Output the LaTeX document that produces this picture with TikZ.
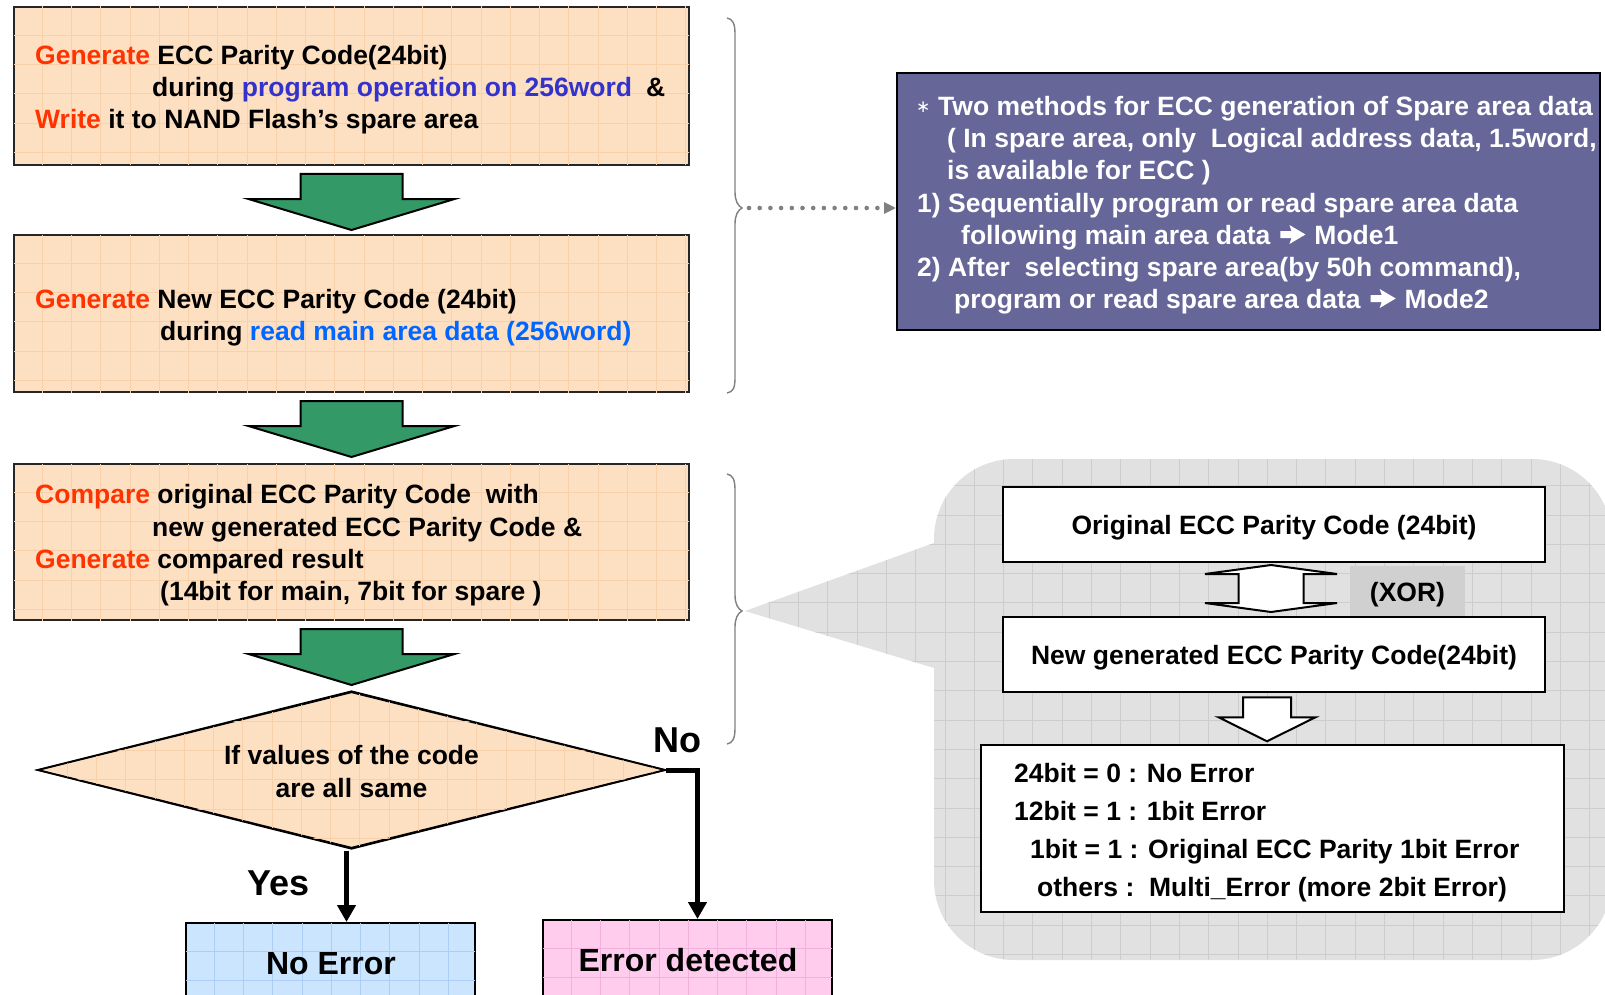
\documentclass[tikz,border=0pt]{standalone}
\usepackage{fontspec}
\setmainfont{Liberation Sans}
\newfontfamily\symfont{DejaVu Sans}
\usetikzlibrary{shapes.geometric,arrows.meta,calc}

\definecolor{peach}{RGB}{253,223,194}
\definecolor{peachgrid}{RGB}{248,209,170}
\definecolor{hot}{RGB}{255,51,0}
\definecolor{progblue}{RGB}{51,51,204}
\definecolor{readblue}{RGB}{0,102,255}
\definecolor{arrowgreen}{RGB}{51,153,102}
\definecolor{noteblue}{RGB}{102,102,153}
\definecolor{callgray}{RGB}{225,225,225}
\definecolor{callgrid}{RGB}{205,205,205}
\definecolor{xorgray}{RGB}{208,208,208}
\definecolor{okblue}{RGB}{204,229,255}
\definecolor{okgrid}{RGB}{172,206,245}
\definecolor{errpink}{RGB}{255,204,238}
\definecolor{errgrid}{RGB}{240,178,218}
\definecolor{bracegray}{RGB}{128,128,128}

\newcommand\fsMain{\fontsize{26.5pt}{32pt}\selectfont\bfseries}
\newcommand\fsBig{\fontsize{32pt}{36pt}\selectfont\bfseries}
\newcommand\fsHuge{\fontsize{36pt}{40pt}\selectfont\bfseries}
\newcommand\hot[1]{\textcolor{hot}{#1}}
% heavy wide-headed arrow used inside the note text
\newcommand\arr{\hspace{10pt}\rlap{\tikz[x=1pt,y=1pt,baseline=0pt]{\fill[white] (0,6) -- (11,6) -- (9,0)
  -- (25,9.5) -- (9,19) -- (11,13) -- (0,13) -- cycle;}}\hspace{34pt}}

% faint square grid inside a rectangular node
\newcommand\gridbox[2]{%
  \begin{scope}
    \clip ([shift={(1,1)}]#1.north west) rectangle ([shift={(-1,-1)}]#1.south east);
    \foreach \k in {1,...,24}{
      \draw[#2] ([shift={(\k*29.25,0)}]#1.north west) -- ++(0,700);
      \draw[#2] ([shift={(0,\k*29.25)}]#1.north west) -- ++(800,0);
    }
  \end{scope}}

\tikzset{
  ln/.style={inner sep=0pt, anchor=base west, font=\fsMain},
  obox/.style={rectangle, draw=black!85, line width=2pt, fill=peach, inner sep=0pt},
  wbox/.style={rectangle, draw=black, line width=2.5pt, fill=white, inner sep=0pt, font=\fsMain},
  gline/.style={line width=0.9pt},
  garrow/.style={draw=black, line width=2pt, fill=arrowgreen, line join=miter},
  warrow/.style={draw=black, line width=2pt, fill=white, line join=miter},
  flowarrow/.style={line width=5pt, -{Triangle[length=17pt,width=18pt]}},
  bracepath/.style={draw=bracegray, line width=1.4pt},
  dotconn/.style={draw=bracegray, line width=4.6pt, line cap=round,
    dash pattern=on 0pt off 10.7pt, -{Triangle[length=12pt,width=11pt]}}
}

\begin{document}
\begin{tikzpicture}[x=1pt,y=-1pt]
\useasboundingbox (0,0) rectangle (1605,995);
\fill[white] (0,0) rectangle (1605,995);
\clip (0,0) rectangle (1605,995);

% ---------- left flow: process boxes ----------
\node[obox, minimum width=675pt, minimum height=158pt] (box1) at (351.5,86) {};
\node[obox, minimum width=675pt, minimum height=157pt] (box2) at (351.5,313.5) {};
\node[obox, minimum width=675pt, minimum height=156pt] (box3) at (351.5,542) {};
\gridbox{box1}{gline, peachgrid}
\gridbox{box2}{gline, peachgrid}
\gridbox{box3}{gline, peachgrid}

\node[ln] (b1a) at (35,65) {\hot{Generate} ECC Parity Code(24bit)};
\node[ln] (b1b) at (152,97) {during \textcolor{progblue}{program operation on 256word}\hspace{14pt}\&};
\node[ln] (b1c) at (35,129) {\hot{Write} it to NAND Flash’s spare area};

\node[ln] (b2a) at (35,308.5) {\hot{Generate} New ECC Parity Code (24bit)};
\node[ln] (b2b) at (160,340.5) {during \textcolor{readblue}{read main area data (256word)}};

\node[ln] (b3a) at (35,503.5) {\hot{Compare} original ECC Parity Code\ \ with};
\node[ln] (b3b) at (152,536.5) {new generated ECC Parity Code \&};
\node[ln] (b3c) at (35,568.5) {\hot{Generate} compared result};
\node[ln] (b3d) at (160,600.5) {(14bit for main, 7bit for spare )};

% green block arrows between the steps
\foreach \b in {box1,box2,box3}{
  \draw[garrow] ($(\b.south)+(0,8)$) ++(-51,0) -- ++(102,0) -- ++(0,25) -- ++(52,0)
    -- ++(-103,31) -- ++(-103,-31) -- ++(52,0) -- cycle;
}

% decision
\node[diamond, draw=black, line width=1.6pt, fill=peach, inner sep=0pt,
      minimum width=627pt, minimum height=156pt] (dia) at (351.5,770) {};
\begin{scope}
  \clip (dia.north) -- (dia.east) -- (dia.south) -- (dia.west) -- cycle;
  \foreach \k in {1,...,24}{
    \draw[gline, peachgrid] (38+\k*29.25,692) -- ++(0,160);
    \draw[gline, peachgrid] (38,692+\k*29.25) -- ++(630,0);
  }
\end{scope}
\draw[black, line width=1.6pt] (dia.north) -- (dia.east) -- (dia.south) -- (dia.west) -- cycle;
\node[inner sep=0pt, align=center, font=\fontsize{26.5pt}{33pt}\selectfont\bfseries] (dtxt) at (351.5,772)
  {If values of the code\\are all same};

% outcomes
\node[rectangle, draw=black, line width=2pt, fill=okblue, inner sep=0pt,
      minimum width=289pt, minimum height=87pt] (noerr) at (330.5,966.5) {};
\node[rectangle, draw=black, line width=2pt, fill=errpink, inner sep=0pt,
      minimum width=289pt, minimum height=90pt] (errdet) at (687.5,965) {};
\gridbox{noerr}{gline, okgrid}
\gridbox{errdet}{gline, errgrid}
\node[inner sep=0pt, anchor=base, font=\fsBig] (noerrt) at (331,974) {No Error};
\node[inner sep=0pt, anchor=base, font=\fsBig] (errdett) at (688,971) {Error detected};

\coordinate (ys) at ($(dia.south)+(-5,2)$);
\draw[flowarrow] (ys) -- (ys |- noerr.north);
\draw[flowarrow, line join=miter] (dia.east) -| ($(errdet.north)+(10,0)$);
\node[inner sep=0pt, anchor=base, font=\fsHuge] (yes) at (278.5,895) {Yes};
\node[inner sep=0pt, anchor=base west, font=\fsHuge] (no) at (653,752) {No};

% ---------- braces ----------
\draw[bracepath] (727,18) .. controls (733,19) and (735,24) .. (735,34) -- (735,192)
  .. controls (735,201) and (738,206) .. (742,208) coordinate (b1tip)
  .. controls (738,210) and (735,215) .. (735,224) -- (735,378)
  .. controls (735,388) and (733,392) .. (727,393);
\draw[bracepath] (727,474) .. controls (733,475) and (735,480) .. (735,490) -- (735,595)
  .. controls (735,604) and (738,609) .. (742,611) coordinate (b2tip)
  .. controls (738,613) and (735,618) .. (735,627) -- (735,728)
  .. controls (735,738) and (733,743) .. (727,744);

% ---------- note on spare area ----------
\node[rectangle, draw=black, line width=2pt, fill=noteblue, inner sep=0pt,
      minimum width=703pt, minimum height=257pt] (note) at (1248.5,201.5) {};
\draw[dotconn] ($(b1tip)+(7,0)$) -- (b1tip -| note.west);
\begin{scope}[every node/.append style={text=white}]
  \node[inner sep=0pt, anchor=base west, font=\symfont\fontsize{17pt}{17pt}\selectfont] (star) at (916,113) {∗};
  \node[ln] (n1) at (938,116) {Two methods for ECC generation of Spare area data};
  \node[ln] (n2) at (947,148) {( In spare area, only\ \ Logical address data, 1.5word,};
  \node[ln] (n3) at (947,180) {is available for ECC )};
  \node[ln] (n4) at (917,212) {1) Sequentially program or read spare area data};
  \node[ln] (n5) at (961,244) {following main area data\arr Mode1};
  \node[ln] (n6) at (917,276) {2) After\ \ selecting spare area(by 50h command),};
  \node[ln] (n7) at (954,308) {program or read spare area data\arr Mode2};
\end{scope}

% ---------- XOR detail callout ----------
\fill[callgray, rounded corners=80pt] (934,459) rectangle (1612,960);
\fill[callgray] (934,543) -- (745,611) -- (934,668) -- cycle;
\begin{scope}
  \clip[rounded corners=80pt] (934,459) rectangle (1612,960);
  \foreach \k in {0,...,24}{
    \draw[gline, callgrid] (945+\k*29.3,459) -- ++(0,510);
    \draw[gline, callgrid] (934,485.7+\k*29.3) -- ++(680,0);
  }
\end{scope}
\begin{scope}
  \clip (934,543) -- (745,611) -- (934,668) -- cycle;
  \foreach \k in {0,...,7}{
    \draw[gline, callgrid] (915.7-\k*29.3,540) -- ++(0,130);
    \draw[gline, callgrid] (745,544.3+\k*29.3) -- ++(190,0);
  }
\end{scope}

\node[rectangle, fill=xorgray, inner sep=0pt, minimum width=115pt, minimum height=51pt,
      font=\fsMain, text height=19pt, text depth=0pt] (xor) at (1407.5,591.5) {(XOR)};
\node[wbox, minimum width=542pt, minimum height=75pt, text height=19pt, text depth=0pt] (orig) at (1274,524.5)
  {Original ECC Parity Code (24bit)};
\node[wbox, minimum width=542pt, minimum height=75pt, text height=19pt, text depth=0pt] (newgen) at (1274,654.5)
  {New generated ECC Parity Code(24bit)};

% two-way XOR arrow between the codes
\draw[warrow] (1271,565) -- (1337,574) -- (1303.5,574) -- (1303.5,603) -- (1337,603)
  -- (1271,612) -- (1205,603) -- (1238.5,603) -- (1238.5,574) -- (1205,574) -- cycle;
% result arrow
\draw[warrow] ($(newgen.south)+(-7,4)$) ++(-24,0) -- ++(48,0) -- ++(0,20) -- ++(24.5,0)
  -- ++(-48.5,24) -- ++(-48.5,-24) -- ++(24.5,0) -- cycle;

\node[wbox, line width=2pt, minimum width=583pt, minimum height=167pt] (result) at (1272.5,828.5) {};
\node[ln] (r1) at (1014,782) {24bit = 0 : No Error};
\node[ln] (r2) at (1014,820) {12bit = 1 : 1bit Error};
\node[ln] (r3) at (1030,858) {1bit = 1 : Original ECC Parity 1bit Error};
\node[ln] (r4) at (1037,896) {others :\ \ Multi\_Error (more 2bit Error)};
\end{tikzpicture}
\end{document}
